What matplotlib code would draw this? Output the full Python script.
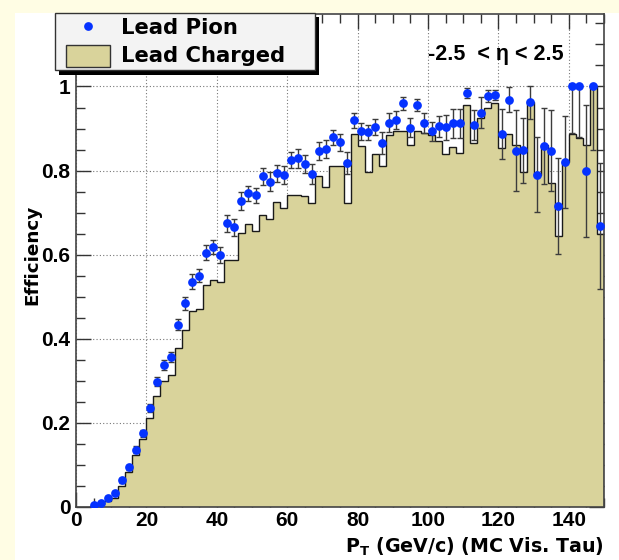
import numpy as np
import matplotlib
matplotlib.use("Agg")
import matplotlib.pyplot as plt
from matplotlib.patches import Rectangle
from matplotlib.ticker import MultipleLocator

# Efficiency vs visible tau pT, 2 GeV bins from 4 to 150
pt_edges = [4, 6, 8, 10, 12, 14, 16, 18, 20, 22, 24, 26, 28, 30, 32, 34, 36, 38,
            40, 42, 44, 46, 48, 50, 52, 54, 56, 58, 60, 62, 64, 66, 68, 70, 72,
            74, 76, 78, 80, 82, 84, 86, 88, 90, 92, 94, 96, 98, 100, 102, 104,
            106, 108, 110, 112, 114, 116, 118, 120, 122, 124, 126, 128, 130,
            132, 134, 136, 138, 140, 142, 144, 146, 148, 150]

lead_charged = [0.002, 0.006, 0.014, 0.022, 0.050, 0.084, 0.124, 0.161, 0.211,
                0.264, 0.299, 0.313, 0.378, 0.421, 0.467, 0.470, 0.528, 0.540,
                0.534, 0.587, 0.587, 0.651, 0.672, 0.656, 0.694, 0.686, 0.726,
                0.710, 0.742, 0.742, 0.740, 0.722, 0.788, 0.760, 0.811, 0.810,
                0.722, 0.886, 0.859, 0.797, 0.840, 0.812, 0.885, 0.895, 0.895,
                0.862, 0.893, 0.889, 0.884, 0.870, 0.840, 0.855, 0.842, 0.956,
                0.866, 0.925, 0.948, 0.960, 0.853, 0.886, 0.860, 0.797, 0.964,
                0.790, 0.860, 0.770, 0.644, 0.820, 0.888, 0.877, 0.860, 1.000,
                0.650]

lead_pion = [0.005, 0.009, 0.021, 0.034, 0.064, 0.094, 0.136, 0.175, 0.235,
             0.298, 0.338, 0.357, 0.434, 0.484, 0.536, 0.550, 0.605, 0.619,
             0.599, 0.675, 0.665, 0.728, 0.746, 0.741, 0.786, 0.774, 0.794,
             0.790, 0.825, 0.829, 0.815, 0.792, 0.847, 0.851, 0.879, 0.867,
             0.819, 0.920, 0.893, 0.891, 0.904, 0.866, 0.914, 0.920, 0.960,
             0.902, 0.956, 0.914, 0.893, 0.905, 0.903, 0.912, 0.912, 0.984,
             0.908, 0.938, 0.977, 0.980, 0.887, 0.969, 0.847, 0.848, 0.962,
             0.790, 0.859, 0.847, 0.716, 0.820, 1.000, 1.000, 0.799, 1.000,
             0.668]

pion_err = [0.003, 0.003, 0.004, 0.005, 0.006, 0.007, 0.008, 0.009, 0.010,
            0.011, 0.012, 0.012, 0.013, 0.016, 0.017, 0.016, 0.018, 0.017,
            0.019, 0.020, 0.020, 0.021, 0.018, 0.018, 0.020, 0.023, 0.020,
            0.022, 0.020, 0.022, 0.021, 0.023, 0.022, 0.022, 0.018, 0.021,
            0.026, 0.018, 0.021, 0.018, 0.019, 0.026, 0.022, 0.022, 0.015,
            0.022, 0.015, 0.024, 0.022, 0.024, 0.030, 0.034, 0.034, 0.012,
            0.036, 0.036, 0.014, 0.012, 0.060, 0.029, 0.096, 0.078, 0.040,
            0.089, 0.090, 0.096, 0.114, 0.109, 0.110, 0.120, 0.156, 0.150,
            0.150]

x_ticks = [0, 20, 40, 60, 80, 100, 120, 140]
y_ticks = [0, 0.2, 0.4, 0.6, 0.8, 1.0]
y_tick_labels = ["0", "0.2", "0.4", "0.6", "0.8", "1"]
legend_labels = ["Lead Pion", "Lead Charged"]
eta_text = "-2.5  < \u03b7 < 2.5"
x_title = r"$\mathbf{P}_{\mathbf{T}}$ (GeV/c) (MC Vis. Tau)"
y_title = "Efficiency"

tan = "#d9d39b"
blue = "#0532ff"

plt.rcParams["font.family"] = ["Liberation Sans", "DejaVu Sans"]
plt.rcParams["font.weight"] = "bold"

W, H = 619, 560
fig = plt.figure(figsize=(W / 100, H / 100), dpi=100, facecolor="#fffde4")
# white ROOT pad over the yellow canvas
fig.patches.append(Rectangle((15 / W, 0), 1, 1 - 13 / H, transform=fig.transFigure,
                             facecolor="white", edgecolor="none", zorder=-5))

ax = fig.add_axes([76 / W, 1 - 507 / H, 528 / W, 493 / H])
ax.set_facecolor("white")

edges = np.array(pt_edges)
centers = (edges[:-1] + edges[1:]) / 2
pion = np.array(lead_pion)
err = np.array(pion_err)

ax.stairs(lead_charged, edges, fill=True, color=tan, zorder=1)
ax.stairs(lead_charged, edges, color="#1a1a1a", lw=1.0, zorder=2)

ax.errorbar(centers, pion, yerr=[err, np.minimum(err, 1 - pion)], fmt="none",
            ecolor="#3c3c3c", elinewidth=1.0, capsize=2, capthick=1.0, zorder=3)
ax.plot(centers, pion, "o", color=blue, ms=6.3, mec="none", zorder=4)

ax.set_xlim(0, 150)
ax.set_ylim(0, 1.1724)
ax.set_xticks(x_ticks)
ax.set_yticks(y_ticks)
ax.set_yticklabels(y_tick_labels)
ax.xaxis.set_minor_locator(MultipleLocator(5))
ax.yaxis.set_minor_locator(MultipleLocator(0.05))
ax.grid(True, which="major", linestyle=(0, (1, 2)), color="#777777", lw=0.8)
ax.set_axisbelow(True)

ax.tick_params(which="both", direction="in", top=True, right=True,
               color="#333333", width=1.0, labelsize=15)
ax.tick_params(which="major", length=11)
ax.tick_params(which="minor", length=6.5)
ax.tick_params(axis="x", pad=3)
ax.tick_params(axis="y", pad=4)
for sp in ax.spines.values():
    sp.set_color("#444444")
    sp.set_linewidth(1.2)

fig.text(604 / W, 1 - 547 / H, x_title, ha="right", va="center",
         fontsize=13.7, family="DejaVu Sans", fontweight="bold")
fig.text(32 / W, 1 - 255 / H, y_title, ha="center", va="center", rotation=90,
         fontsize=13.2, family="DejaVu Sans", fontweight="bold")
fig.text(428 / W, 1 - 60 / H, eta_text, ha="left", va="baseline",
         fontsize=15.5, fontweight="bold")

# ROOT style legend with hard shadow, drawn in pixel coordinates
ov = fig.add_axes([0, 0, 1, 1], zorder=5)
ov.set_xlim(0, W)
ov.set_ylim(H, 0)
ov.axis("off")
ov.add_patch(Rectangle((59, 17), 260, 58, facecolor="black", edgecolor="none"))
ov.add_patch(Rectangle((55, 13), 260, 57, facecolor="#f3f3f3", edgecolor="#333333", lw=1))
ov.plot([88], [26], "o", color=blue, ms=6.3, mec="none")
ov.add_patch(Rectangle((66, 45), 44, 22, facecolor=tan, edgecolor="#333333", lw=1))
ov.text(121, 34.5, legend_labels[0], ha="left", va="baseline", fontsize=15.2,
        family="DejaVu Sans", fontweight="bold")
ov.text(121, 62, legend_labels[1], ha="left", va="baseline", fontsize=15.2,
        family="DejaVu Sans", fontweight="bold")

fig.savefig("out.png", dpi=100, facecolor=fig.get_facecolor())
